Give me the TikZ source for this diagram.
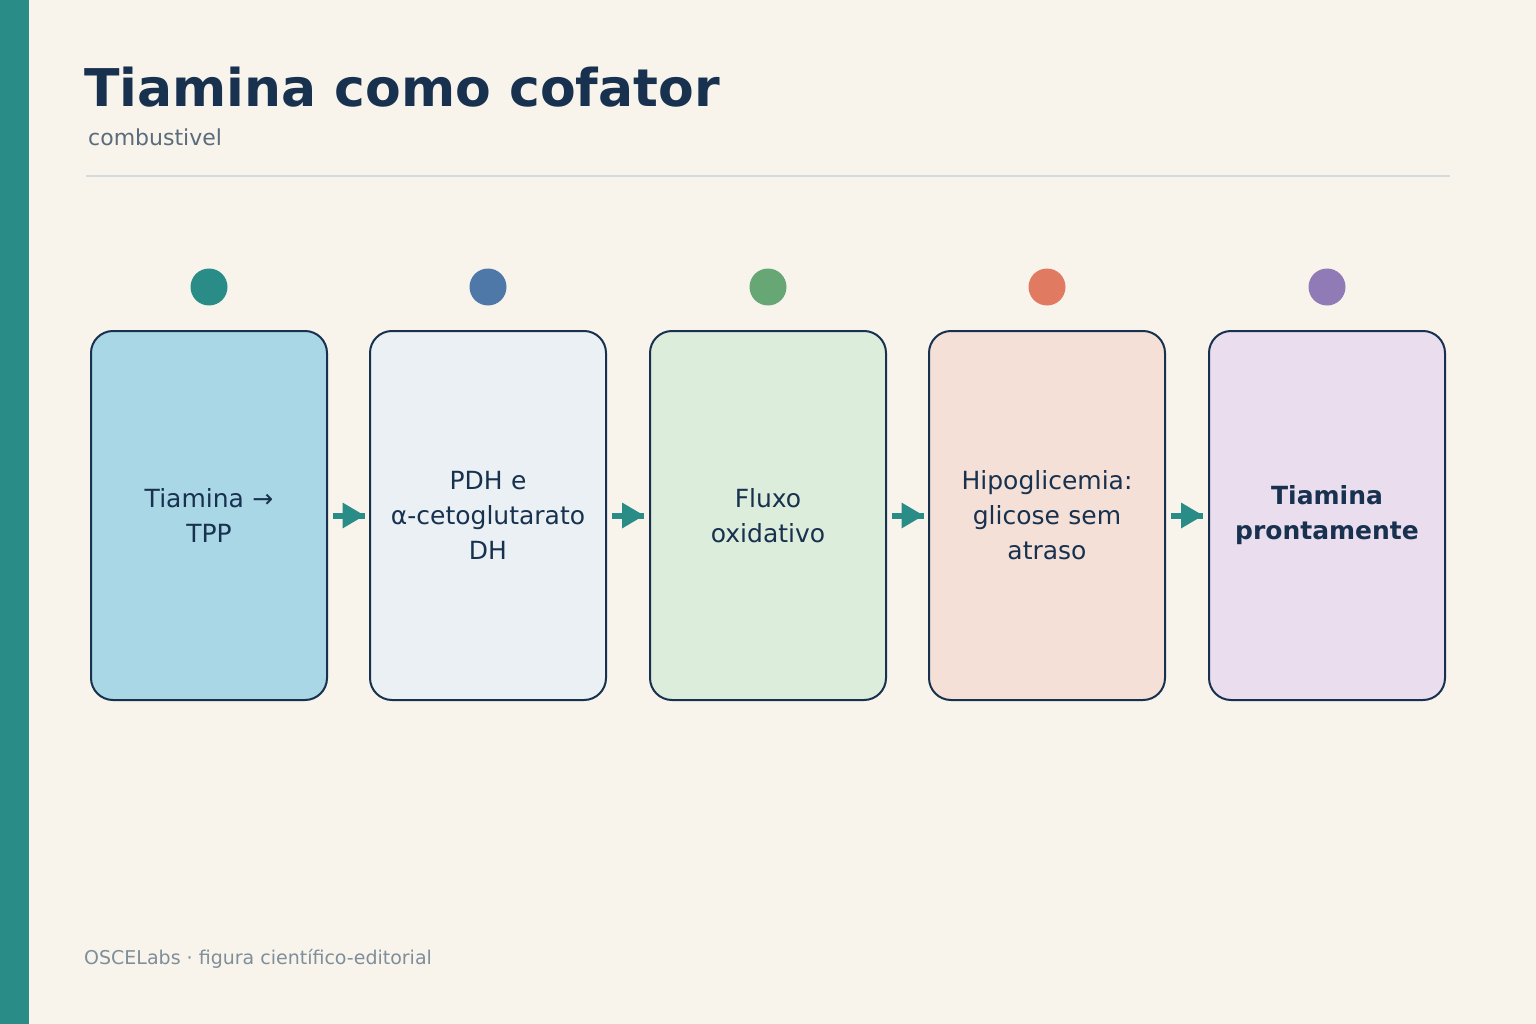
\documentclass[tikz,border=0pt]{standalone}
\usepackage{fontspec}
\setmainfont{DejaVu Sans}
\definecolor{bg}{HTML}{F8F4EC}
\definecolor{teal}{HTML}{2A8C87}
\definecolor{navy}{HTML}{17314F}
\definecolor{sub}{HTML}{5A6B7B}
\definecolor{foot}{HTML}{7F8E9A}
\definecolor{rule}{HTML}{D3DCDF}
\definecolor{f1}{HTML}{A9D7E5}\definecolor{c1}{HTML}{2A8C87}
\definecolor{f2}{HTML}{EAF0F3}\definecolor{c2}{HTML}{4E78A8}
\definecolor{f3}{HTML}{DDEDDB}\definecolor{c3}{HTML}{67A775}
\definecolor{f4}{HTML}{F4E0D7}\definecolor{c4}{HTML}{E07A60}
\definecolor{f5}{HTML}{EADDEE}\definecolor{c5}{HTML}{907BB6}
\begin{document}
\begin{tikzpicture}[x=1pt,y=-1pt,
 box/.style={draw=navy,line width=2pt,rounded corners=22pt,minimum width=236pt,minimum height=369pt,align=center,text=navy,font=\fontsize{25}{35}\selectfont,text width=226pt},
 dot/.style={circle,minimum size=37pt,inner sep=0pt},
 arr/.style={draw=teal,fill=teal}]
\useasboundingbox (0,0) rectangle (1536,1024);
\fill[bg] (0,0) rectangle (1536,1024);
\fill[teal] (0,0) rectangle (29,1024);
\node[anchor=base west,text=navy,font=\fontsize{52}{60}\selectfont\bfseries,inner sep=0] (t) at (84,107) {Tiamina como cofator};
\node[anchor=base west,text=sub,font=\fontsize{22}{26}\selectfont,inner sep=0] (s) at (88,146) {combustivel};
\draw[rule,line width=2.5pt] (86,176) -- (1450,176);
\foreach \i/\x/\t in {1/209/{Tiamina →\\TPP},2/488/{PDH e\\α-cetoglutarato\\DH},3/768/{Fluxo\\oxidativo},4/1047/{Hipoglicemia:\\glicose sem\\atraso},5/1327/{\textbf{Tiamina}\\\textbf{prontamente}}}{
 \node[box,fill=f\i] (b\i) at (\x,515.5) {\t};
 \node[dot,fill=c\i] (d\i) at (\x,287) {};
}
\foreach \a/\b in {1/2,2/3,3/4,4/5}{
 \path (b\a.east) -- (b\b.west) coordinate[pos=0.5] (m\a);
 \fill[teal] ([xshift=-16pt,yshift=-3pt]m\a) rectangle ([xshift=16pt,yshift=3pt]m\a);
 \fill[teal] ([xshift=-6pt,yshift=-13pt]m\a) -- ([xshift=16pt]m\a) -- ([xshift=-6pt,yshift=13pt]m\a) -- cycle;
}
\node[anchor=base west,text=foot,font=\fontsize{19}{22}\selectfont,inner sep=0] (f) at (84,964) {OSCELabs · figura científico-editorial};
\end{tikzpicture}
\end{document}
